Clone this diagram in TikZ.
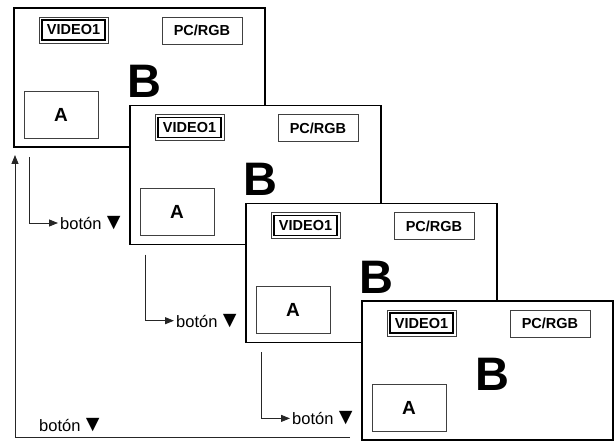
\documentclass[tikz,border=0pt]{standalone}
\usepackage{fontspec}
\setmainfont{Liberation Sans}
\usetikzlibrary{arrows.meta,positioning,calc,fit}
\newcommand{\dnmark}{\hspace{1pt}{\fontsize{23}{23}\selectfont ▼}}

\begin{document}
\begin{tikzpicture}[
  x=1pt,y=-1pt,
  screen/.style={draw,line width=1.6pt,fill=white,minimum width=251pt,minimum height=139pt,inner sep=0pt,outer sep=0pt,anchor=north west},
  srcbox/.style={draw=black!75,line width=0.7pt,inner sep=0pt,minimum width=80pt,minimum height=27pt,font=\bfseries\fontsize{14.5}{16}\selectfont},
  vidbox/.style={draw,line width=1.4pt,inner sep=0pt,minimum width=63pt,minimum height=20pt,font=\bfseries\fontsize{14.5}{16}\selectfont},
  vidframe/.style={draw=black!75,line width=0.6pt,inner sep=2.4pt},
  pipbox/.style={draw=black!75,line width=0.7pt,inner sep=0pt,minimum width=74pt,minimum height=47pt,font=\bfseries\fontsize{19}{21}\selectfont},
  bigletter/.style={inner sep=0pt,font=\bfseries\fontsize{47}{50}\selectfont},
  btn/.style={inner sep=2pt,anchor=west,font=\fontsize{16.5}{18}\selectfont},
  arr/.style={line width=0.8pt,draw=black!85,-{Triangle[length=9pt,width=7pt]}}
]
  \useasboundingbox (0,0) rectangle (614,441);

  % the four screens, each one on top of the one before
  \foreach \i [evaluate=\i as \sx using {14+116*(\i-1)},
               evaluate=\i as \sy using {8+97.7*(\i-1)}] in {1,...,4} {
    \node[screen] (scr\i) at (\sx,\sy) {};
    \node[vidbox] (vid\i) at (\sx+59.5,\sy+22) {VIDEO1};
    \node[vidframe,fit=(vid\i)] (vidf\i) {};
    \node[srcbox] (pc\i) at (\sx+188,\sy+22.5) {PC/RGB};
    \node[bigletter] (b\i) at (\sx+130,\sy+73.5) {B};
    \node[pipbox] (pip\i) at (\sx+47,\sy+106.5) {A};
  }

  % button steps
  \foreach \i in {1,2,3} {
    \coordinate (dn\i) at ($(scr\i.south west)+(15,10)$);
    \node[btn] (btn\i) at ($(dn\i)+(29,66)$) {botón\dnmark};
    \draw[arr] (dn\i) |- (btn\i.west);
  }

  % back to the first screen
  \coordinate (ret) at (350,437);
  \coordinate (back) at ($(scr1.south west)+(1,8)$);
  \node[btn] (btn4) at (37,425) {botón\dnmark};
  \draw[arr] (ret) -| (back);
\end{tikzpicture}
\end{document}
